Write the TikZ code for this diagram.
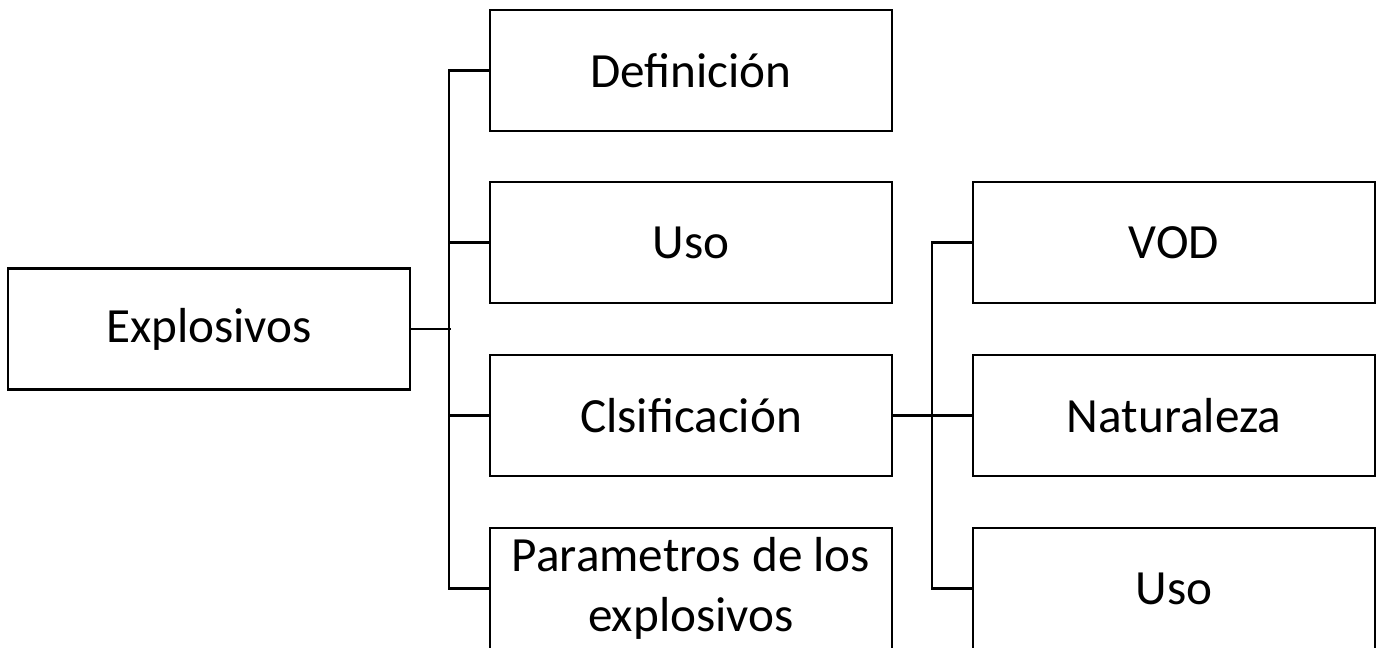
\documentclass[tikz,border=0pt]{standalone}
\usepackage{fontspec}
\setmainfont{Carlito}
\usepackage{tikz}
\tikzstyle{topic}=[draw, line width=1.4pt, minimum width=8.04cm, minimum height=2.42cm, inner sep=0pt, align=center, font=\fontsize{28}{34}\selectfont]
\tikzstyle{link}=[line width=1.4pt]

\begin{document}
\begin{tikzpicture}[x=0.02cm, y=-0.02cm]
        \clip (0, 0) rectangle (1382, 647);
        \node[topic] (expl) at (209, 329) {Explosivos};
        \node[topic] (def) at (691, 70.5) {Definición};
        \node[topic] (uso) at (691, 242.5) {Uso};
        \node[topic] (cls) at (691, 415.5) {Clsificación};
        \node[topic] (par) at (691, 588.5) {Parametros de los\\explosivos};
        \node[topic] (vod) at (1174, 242.5) {VOD};
        \node[topic] (nat) at (1174, 415.5) {Naturaleza};
        \node[topic] (usotipo) at (1174, 588.5) {Uso};
        \draw[link] (expl.east) -- +(40, 0);
        \draw[link] (def.west) -- +(-40, 0) |- (par.west);
        \draw[link] (uso.west) -- +(-40, 0);
        \draw[link] (cls.west) -- +(-40, 0);
        \draw[link] (cls.east) -- (nat.west);
        \draw[link] (vod.west) -- +(-40, 0) |- (usotipo.west);
    \end{tikzpicture}
\end{document}
